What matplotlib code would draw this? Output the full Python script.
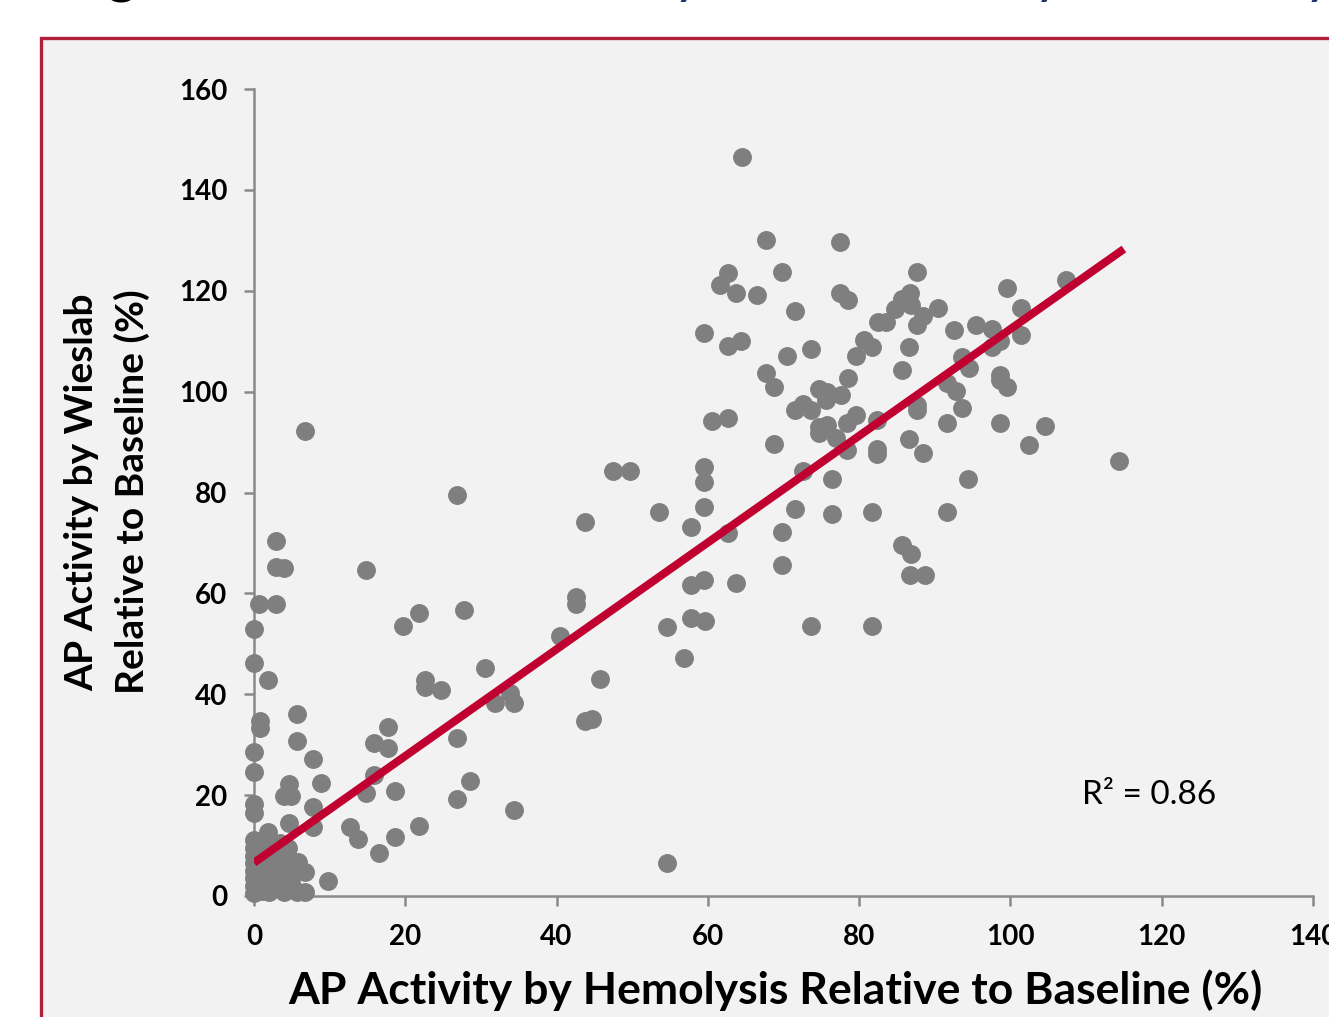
import numpy as np
import matplotlib
matplotlib.use("Agg")
import matplotlib.pyplot as plt
from matplotlib.patches import Rectangle

# ---------------- data ----------------
x_hemolysis = [
    0, 0, 0, 0, 0, 0,
    0.7, 2.9, 2.9, 2.9, 4.0,
    0.8, 0.8, 1.8, 6.7, 5.7, 5.7, 7.8, 8.8, 4.6, 3.9, 4.9, 7.8, 4.6, 7.8, 1.8,
    0, 0, 0, 0, 0, 0, 0, 0, 1, 1, 1, 1, 1, 1, 2, 2, 2, 2, 2, 3, 3, 3, 3, 3, 3.5,
    4, 4, 4, 4, 4.5, 5, 5, 5.8, 6.7, 5.7, 6.7, 9.8,
    12.7, 13.7, 14.8, 15.8, 15.8, 17.7, 17.7, 16.5, 18.7, 18.7, 21.8, 14.8, 19.7,
    21.8, 22.6, 22.6, 24.7, 26.8, 27.8, 26.8, 28.5, 26.8, 30.6, 31.8, 33.8, 34.4,
    34.4,
    40.5, 42.6, 42.6, 43.7, 43.7, 44.7, 45.8, 47.5, 49.7, 53.5, 54.6, 54.6, 56.8,
    57.8, 57.8, 57.8, 59.6, 59.5, 59.5, 59.5, 59.5, 59.5, 60.6, 62.7, 62.7, 63.7,
    61.6, 62.7, 63.7, 62.7, 64.4, 64.5, 66.5, 67.7, 67.7, 68.7, 68.7, 69.8, 69.8,
    69.8, 70.5, 71.5, 71.5, 71.5, 72.6, 72.6, 73.6, 73.6, 73.6, 74.7, 74.7, 74.7,
    75.8, 75.8, 75.6, 76.9, 76.4, 76.4, 77.5, 77.6, 77.5, 78.5, 78.5, 78.4, 78.4,
    79.6, 79.6, 80.6, 81.7, 81.7, 81.7, 82.5, 83.6, 82.4, 82.4, 82.4, 84.7, 85.6,
    85.6, 85.7, 86.7, 86.8, 86.6, 86.6, 86.8, 86.7, 87.6, 87.6, 88.4, 87.6, 87.6,
    88.4, 88.7, 90.4, 91.6, 92.8, 91.6, 91.6, 92.6, 93.6, 93.6, 94.5, 94.4, 95.4,
    97.5, 97.6, 98.6, 98.6, 98.6, 99.6, 98.6, 99.6, 101.4, 101.4, 102.5, 104.6,
    107.4, 114.4,
]
y_wieslab = [
    52.9, 46.2, 28.5, 24.5, 18.3, 16.4,
    57.8, 57.8, 70.4, 65.3, 65.0,
    34.6, 33.4, 42.9, 92.2, 36.1, 30.7, 27.1, 22.4, 22.3, 19.8, 19.8, 17.6, 14.5, 13.7, 12.7,
    0.5, 2, 3.5, 5, 6.5, 8, 9.5, 11.1, 1, 3, 5, 7, 9, 10.5, 0.8, 2.5, 4.5, 6.5, 8.5, 1.5, 3.5, 5.5, 7.5, 9, 10.5,
    0.8, 3, 5, 7, 9.5, 2, 4, 6.7, 4.8, 0.8, 0.8, 3.0,
    13.6, 11.3, 20.4, 24.0, 30.3, 29.3, 33.5, 8.6, 11.7, 20.8, 13.9, 64.6, 53.5,
    56.1, 42.8, 41.4, 40.8, 79.5, 56.7, 31.3, 22.8, 19.2, 45.2, 38.3, 40.2, 38.3,
    17.0,
    51.5, 59.3, 57.9, 74.1, 34.7, 35.1, 43.0, 84.2, 84.2, 76.2, 53.4, 6.5, 47.2,
    73.2, 61.6, 55.1, 54.5, 62.6, 77.2, 82.0, 85.1, 111.7, 94.2, 94.8, 72.0, 62.0,
    121.2, 123.5, 119.5, 109.0, 110.0, 146.5, 119.2, 130.1, 103.7, 101.0, 89.6, 123.8, 72.1,
    65.6, 107.0, 116.0, 96.4, 76.7, 97.5, 84.3, 108.5, 96.4, 53.5, 100.6, 93.0, 91.8,
    100.0, 93.4, 98.3, 90.8, 82.7, 75.7, 129.7, 99.4, 119.6, 118.1, 102.7, 93.8, 88.5,
    95.3, 107.0, 110.2, 108.8, 76.2, 53.5, 113.8, 113.9, 94.3, 88.7, 87.6, 116.4, 118.4,
    104.3, 69.5, 119.6, 117.2, 108.9, 90.7, 67.9, 63.6, 123.8, 113.2, 114.9, 97.3, 96.4,
    87.8, 63.6, 116.5, 101.7, 100.1, 93.8, 76.2, 112.2, 96.8, 106.9, 104.7, 82.7, 113.3,
    112.4, 108.9, 110.0, 103.3, 102.3, 101.0, 93.8, 120.6, 116.5, 111.2, 89.5, 93.2,
    122.2, 86.3,
]
fit_x_range = [0, 115]
fit_intercept = 6.6
fit_slope = 1.058
r2_label = "R\u00b2 = 0.86"

x_ticks = [0, 20, 40, 60, 80, 100, 120, 140]
y_ticks = [0, 20, 40, 60, 80, 100, 120, 140, 160]

x_label = "AP Activity by Hemolysis Relative to Baseline (%)"
y_label = "AP Activity by Wieslab\nRelative to Baseline (%)"
title_black = "Fig 2A."
title_blue = "Wieslab Activity vs AP Hemolysis Activity"

# ---------------- figure ----------------
W, H = 1329, 1017
fig = plt.figure(figsize=(W / 100, H / 100), dpi=100)
fig.patch.set_facecolor("white")

FONT = ["Lato", "DejaVu Sans"]

# slide frame
frame = Rectangle((41 / W, -0.2), 1.2, (1 - 38 / H) + 0.2, transform=fig.transFigure,
                  facecolor="#F2F2F2", edgecolor="#B0203A", linewidth=2.4, zorder=-5)
fig.patches.append(frame)

# clipped slide title (only the descenders show)
fig.text(58 / W, 1 + 8 / H, title_black, fontsize=43, color="black", family=FONT,
         ha="left", va="baseline")
fig.text(297 / W, 1 + 8 / H, title_blue, fontsize=43.5, color="#1F2F6B", family=FONT,
         style="italic", ha="left", va="baseline")

ax = fig.add_axes([254 / W, 1 - 896 / H, (1313 - 254) / W, (896 - 89) / H])
ax.patch.set_alpha(0)
ax.set_xlim(0, 140)
ax.set_ylim(0, 160)

ax.scatter(x_hemolysis, y_wieslab, s=185, color="#7F7F7F", linewidths=0,
           zorder=3, clip_on=False)

fx = np.array(fit_x_range, dtype=float)
ax.plot(fx, fit_intercept + fit_slope * fx, color="#C00030", linewidth=5.8,
        solid_capstyle="butt", zorder=4)

ax.text(109.5, 20, r2_label, fontsize=24, family=FONT, color="black",
        ha="left", va="center")

for s in ["top", "right"]:
    ax.spines[s].set_visible(False)
for s in ["left", "bottom"]:
    ax.spines[s].set_color("#898989")
    ax.spines[s].set_linewidth(1.8)

ax.set_xticks(x_ticks)
ax.set_yticks(y_ticks)
ax.set_xticklabels([str(v) for v in x_ticks], fontsize=20, fontweight="bold", family=FONT)
ax.set_yticklabels([str(v) for v in y_ticks], fontsize=20, fontweight="bold", family=FONT)
ax.tick_params(axis="both", direction="out", length=7, width=1.8, color="#898989")
ax.tick_params(axis="x", pad=13)
ax.tick_params(axis="y", pad=12)

fig.text(775 / W, 1 - 990 / H, x_label, fontsize=32, fontweight="bold", family=FONT,
         ha="center", va="center")
fig.text(107 / W, 1 - 492 / H, y_label, fontsize=28, fontweight="bold", family=FONT,
         ha="center", va="center", rotation=90, multialignment="center", linespacing=1.5)

fig.savefig("out.png", dpi=100, facecolor=fig.get_facecolor())
